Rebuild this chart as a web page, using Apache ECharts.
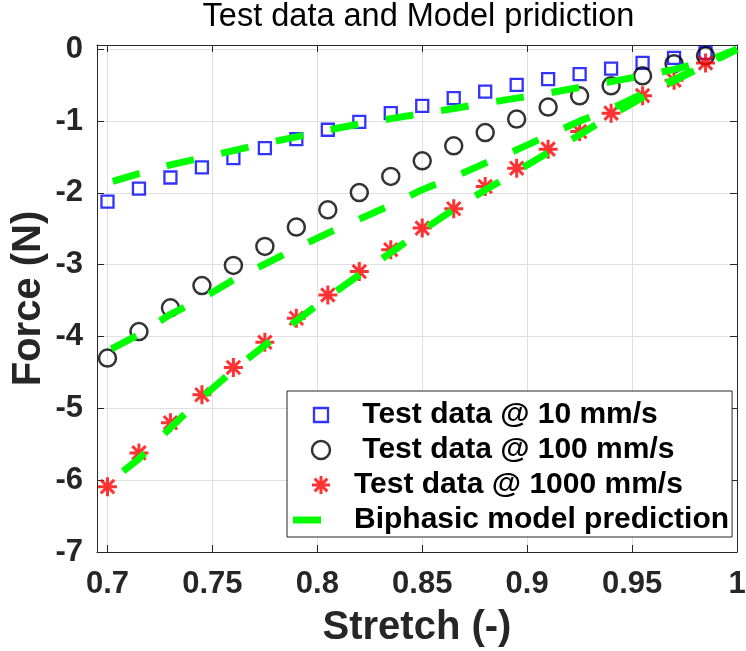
<!DOCTYPE html>
<html>
<head>
<meta charset="utf-8">
<script src="https://cdn.jsdelivr.net/npm/echarts@6/dist/echarts.min.js"></script>
<style>
html,body{margin:0;padding:0;background:#fff;}
#chart{width:746px;height:651px;}
</style>
</head>
<body>
<div id="chart"></div>
<script>
// ---- data ----
const stretchTest = [0.7,0.715,0.73,0.745,0.76,0.775,0.79,0.805,0.82,0.835,0.85,0.865,0.88,0.895,0.91,0.925,0.94,0.955,0.97,0.985];
const force10   = [-2.12,-1.94,-1.785,-1.645,-1.515,-1.376,-1.25,-1.12,-1.01,-0.89,-0.787,-0.68,-0.588,-0.494,-0.415,-0.346,-0.27,-0.19,-0.12,-0.05];
const force100  = [-4.30,-3.93,-3.60,-3.29,-3.01,-2.745,-2.476,-2.235,-1.995,-1.77,-1.553,-1.344,-1.159,-0.972,-0.805,-0.648,-0.508,-0.369,-0.2,-0.09];
const force1000 = [-6.09,-5.62,-5.20,-4.81,-4.43,-4.08,-3.745,-3.42,-3.095,-2.79,-2.49,-2.22,-1.91,-1.655,-1.39,-1.145,-0.889,-0.645,-0.43,-0.19];

const stretchModel = [0.7,0.715,0.73,0.745,0.76,0.775,0.79,0.805,0.82,0.835,0.85,0.865,0.88,0.895,0.91,0.925,0.94,0.955,0.97,0.985,1.0];
const model10   = [-1.86,-1.73,-1.61,-1.51,-1.41,-1.31,-1.22,-1.125,-1.04,-0.965,-0.895,-0.825,-0.75,-0.68,-0.61,-0.53,-0.45,-0.37,-0.28,-0.17,0];
const model100  = [-4.20,-3.97,-3.69,-3.47,-3.21,-2.99,-2.77,-2.56,-2.365,-2.17,-1.955,-1.78,-1.585,-1.40,-1.20,-1.00,-0.83,-0.62,-0.42,-0.21,0];
const model1000 = [-6.05,-5.70,-5.27,-4.85,-4.47,-4.12,-3.78,-3.45,-3.14,-2.83,-2.52,-2.23,-1.96,-1.70,-1.44,-1.19,-0.92,-0.67,-0.44,-0.22,0];

const xTicks = [0.7,0.75,0.8,0.85,0.9,0.95,1.0];
const yTicks = [0,-1,-2,-3,-4,-5,-6,-7];

const titleText = 'Test data and Model pridiction';
const xName = 'Stretch (-)';
const yName = 'Force (N)';
const name10 = ' Test data @ 10 mm/s';
const name100 = ' Test data @ 100 mm/s';
const name1000 = 'Test data @ 1000 mm/s';
const nameModel = 'Biphasic model prediction';

// ---- chart ----
const FF = '"Liberation Sans", Arial, Helvetica, sans-serif';
const AX = '#262626';
const zip = (xs, ys) => xs.map((x, i) => [x, ys[i]]);
const fmt = v => String(+Number(v).toFixed(3));
const starPath = 'path://M0,-10L0,10M-10,0L10,0M-7.07,-7.07L7.07,7.07M-7.07,7.07L7.07,-7.07';
const legendSquare = 'path://M0,0M18,18M2,2L16,2L16,16L2,16Z';
const legendDash = 'path://M0,0M56,18M0,5.5L28,5.5L28,12.5L0,12.5Z';

function xAxisCfg(pos, main) {
  return {
    type: 'value', position: pos, min: 0.695, max: 1.0,
    axisLine: {show: true, onZero: false, lineStyle: {color: AX, width: 1}},
    axisTick: {show: true, inside: true, length: 7, customValues: xTicks, lineStyle: {color: AX, width: 1}},
    axisLabel: {show: main, customValues: xTicks, formatter: fmt, margin: 17, fontSize: 31, fontWeight: 'bold', color: AX, fontFamily: FF, hideOverlap: false},
    splitLine: {show: main, lineStyle: {color: '#e0e0e0', width: 1}},
    name: main ? xName : '', nameLocation: 'middle', nameGap: 56,
    nameTextStyle: {fontSize: 40, fontWeight: 'bold', color: AX, fontFamily: FF},
    nameMoveOverlap: false
  };
}
function yAxisCfg(pos, main) {
  return {
    type: 'value', position: pos, min: -7, max: 0.06,
    axisLine: {show: true, onZero: false, lineStyle: {color: AX, width: 1}},
    axisTick: {show: true, inside: true, length: 7, customValues: yTicks, lineStyle: {color: AX, width: 1}},
    axisLabel: {show: main, customValues: yTicks, formatter: fmt, margin: 14, fontSize: 31, fontWeight: 'bold', color: AX, fontFamily: FF, hideOverlap: false},
    splitLine: {show: main, lineStyle: {color: '#e0e0e0', width: 1}},
    name: main ? yName : '', nameLocation: 'middle', nameGap: 48,
    nameTextStyle: {fontSize: 40, fontWeight: 'bold', color: AX, fontFamily: FF},
    nameMoveOverlap: false
  };
}
function modelSeries(data, offset) {
  return {
    name: nameModel, type: 'line', data: zip(stretchModel, data), symbol: 'none', showSymbol: false,
    lineStyle: {color: '#00ff00', width: 7, type: [28, 28], dashOffset: offset, cap: 'butt'},
    itemStyle: {color: '#00ff00'}, z: 3, silent: true, animation: false
  };
}

const chart = echarts.init(document.getElementById('chart'), null, {renderer: 'canvas'});
chart.setOption({
  animation: false,
  backgroundColor: '#ffffff',
  textStyle: {fontFamily: FF},
  title: {
    text: titleText, left: 418.5, top: 1, padding: 0, textAlign: 'center',
    textStyle: {fontSize: 32.5, fontWeight: 'normal', color: '#000', fontFamily: FF}
  },
  grid: {left: 97, right: 9, top: 45, bottom: 99, containLabel: false, outerBoundsMode: 'none'},
  xAxis: [xAxisCfg('bottom', true), xAxisCfg('top', false)],
  yAxis: [yAxisCfg('left', true), yAxisCfg('right', false)],
  legend: {
    orient: 'vertical', left: 287, top: 391, padding: [9, 3, 2, 6],
    itemGap: 5, itemWidth: 56, itemHeight: 18, itemTextGap: 3,
    symbolKeepAspect: true,
    backgroundColor: '#ffffff', borderColor: AX, borderWidth: 1, borderRadius: 0,
    textStyle: {fontSize: 30, fontWeight: 'bold', color: '#000', fontFamily: FF, lineHeight: 30},
    selectedMode: false,
    data: [
      {name: name10, icon: legendSquare, itemStyle: {color: 'rgba(0,0,0,0)', borderColor: '#0000ff', borderWidth: 2.3}},
      {name: name100, icon: 'circle', itemStyle: {color: 'rgba(0,0,0,0)', borderColor: '#000000', borderWidth: 2.5}},
      {name: name1000, icon: starPath, itemStyle: {color: '#ff0000', borderColor: '#ff0000', borderWidth: 3}},
      {name: nameModel, icon: legendDash, itemStyle: {color: '#00ff00', borderWidth: 0}}
    ]
  },
  series: [
    {name: name10, type: 'scatter', data: zip(stretchTest, force10), symbol: 'rect', symbolSize: 12,
     itemStyle: {color: 'rgba(0,0,0,0)', borderColor: '#0000ff', borderWidth: 2.3}, z: 2},
    {name: name100, type: 'scatter', data: zip(stretchTest, force100), symbol: 'circle', symbolSize: 17,
     itemStyle: {color: 'rgba(0,0,0,0)', borderColor: '#000000', borderWidth: 2.5}, z: 2},
    {name: name1000, type: 'scatter', data: zip(stretchTest, force1000), symbol: starPath, symbolSize: 19,
     itemStyle: {color: '#ff0000', borderColor: '#ff0000', borderWidth: 3}, z: 2},
    modelSeries(model10, 50.5),
    modelSeries(model100, 51.5),
    modelSeries(model1000, 36)
  ]
});
</script>
</body>
</html>
